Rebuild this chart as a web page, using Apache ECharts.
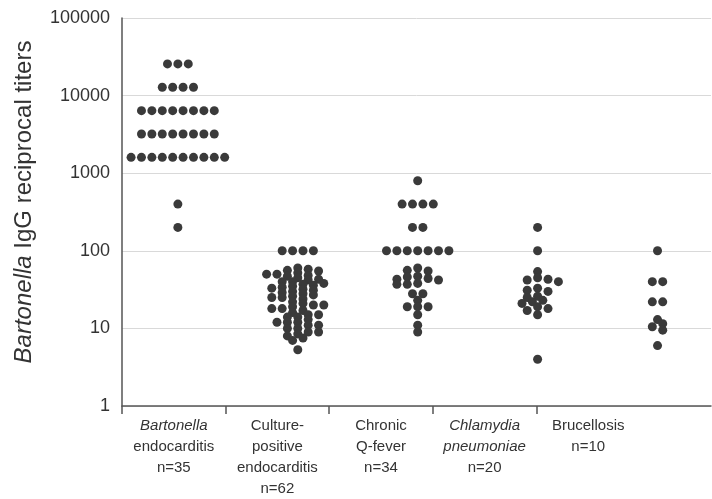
<!DOCTYPE html>
<html>
<head>
<meta charset="utf-8">
<script src="https://cdn.jsdelivr.net/npm/echarts@6/dist/echarts.min.js"></script>
<style>html,body{margin:0;padding:0;background:#fff;}#c{width:712px;height:499px;}</style>
</head>
<body>
<div id="c"></div>
<script>
// ---- data ----
const categories = [
  '{i|Bartonella}\nendocarditis\nn=35',
  'Culture-\npositive\nendocarditis\nn=62',
  'Chronic\nQ-fever\nn=34',
  '{i|Chlamydia}\n{i|pneumoniae}\nn=20',
  'Brucellosis\nn=10'
];
const bartonella = [25600,25600,25600,12800,12800,12800,12800,
  6400,6400,6400,6400,6400,6400,6400,6400,
  3200,3200,3200,3200,3200,3200,3200,3200,
  1600,1600,1600,1600,1600,1600,1600,1600,1600,1600,400,200];
const culturePositive = [100,100,100,100,60,58,56,55,52,50,50,48,47,45,43,42,40,40,38,37,36,35,34,
  33,32,31,30,29,28,27,26,25,25,24,22,21,20,20,19,18,18,17,16,15,15,14,14,13,12,12,12,
  11,11,10,10,9,9,8.5,8,7.5,7,5.3];
const qFever = [800,400,400,400,400,200,200,100,100,100,100,100,100,100,
  60,56,55,47,46,44,43,42,38,37,37,28,28,23,19,19,19,15,11,9];
const chlamydia = [200,100,54,45,43,42,40,33,31,30,26,25,23,22,21,19,18,17,15,4];
const brucellosis = [100,40,40,22,22,13,11.5,10.5,9.5,6];
const groups = [bartonella, culturePositive, qFever, chlamydia, brucellosis];
const yTicks = [1,10,100,1000,10000,100000];

const FONT = '"Liberation Sans", Arial, Helvetica, sans-serif';
const chart = echarts.init(document.getElementById('c'), null, {renderer: 'canvas'});
const xMin = -0.466, xMax = 4.446;
const base = {
  animation: false,
  grid: [
    {left: 122, right: 1, top: 18, bottom: 93},
    {left: 122, width: 518, top: 18, bottom: 93},
    {left: 122, width: 414.4, top: 18, bottom: 93}
  ],
  xAxis: [
    {gridIndex: 0, type: 'value', min: xMin, max: xMax,
      axisLine: {show: true, onZero: false, lineStyle: {color: '#555', width: 1.5}},
      axisTick: {show: false}, axisLabel: {show: false}, splitLine: {show: false}},
    {gridIndex: 1, type: 'category', data: categories, boundaryGap: true,
      axisLine: {show: false}, axisTick: {show: false},
      axisLabel: {interval: 0, margin: 9, fontSize: 15, lineHeight: 21, color: '#333', fontFamily: FONT,
        rich: {i: {fontStyle: 'italic', fontSize: 15, lineHeight: 21, color: '#333', fontFamily: FONT}}}},
    {gridIndex: 2, type: 'value', min: 0, max: 4, interval: 1,
      axisLine: {show: false}, axisLabel: {show: false}, splitLine: {show: false},
      axisTick: {show: true, length: 8, lineStyle: {color: '#555', width: 1.5}}}
  ],
  yAxis: [
    {gridIndex: 0, type: 'log', logBase: 10, min: yTicks[0], max: yTicks[yTicks.length-1],
      axisLine: {show: true, onZero: false, lineStyle: {color: '#555', width: 1.5}},
      axisTick: {show: false},
      axisLabel: {fontSize: 18, color: '#333', margin: 12, fontFamily: FONT, formatter: v => String(Math.round(v))},
      splitLine: {show: true, lineStyle: {color: '#d9d9d9', width: 1}},
      name: '{i|Bartonella} IgG reciprocal titers', nameLocation: 'middle', nameRotate: 90, nameGap: 86,
      nameTextStyle: {fontSize: 24, color: '#333', fontFamily: FONT, padding: [0, 0, 0, 20],
        rich: {i: {fontStyle: 'italic', fontSize: 24, color: '#333', fontFamily: FONT}}}},
    {gridIndex: 1, type: 'value', show: false},
    {gridIndex: 2, type: 'value', show: false}
  ],
  series: []
};
chart.setOption(base);

const toY = v => chart.convertToPixel({yAxisIndex: 0}, v);
const pxPerUnit = chart.convertToPixel({xAxisIndex: 0}, 1) - chart.convertToPixel({xAxisIndex: 0}, 0);

function layout(vals, s, v) {
  const pts = [];
  const sorted = vals.slice().sort((a, b) => b - a);
  let i = 0;
  while (i < sorted.length) {
    let j = i; while (j < sorted.length && sorted[j] === sorted[i]) j++;
    const k = j - i, y = toY(sorted[i]);
    const row = []; for (let m = 0; m < k; m++) row.push((m - (k - 1) / 2) * s);
    const sum = pts.reduce((a, p) => a + p.x, 0);
    let chosen = null;
    for (let st = 0; st < 80 && chosen === null; st++) {
      const cands = st === 0 ? [0] : (sum > 0 ? [-st * s / 2, st * s / 2] : [st * s / 2, -st * s / 2]);
      for (const c of cands) {
        const ok = row.every(b => pts.every(p => {
          const dx = (b + c - p.x) / s, dy = (y - p.y) / v;
          return dx * dx + dy * dy >= 0.999;
        }));
        if (ok) { chosen = c; break; }
      }
    }
    row.forEach(b => pts.push({x: b + chosen, y: y, val: sorted[i]}));
    i = j;
  }
  return pts;
}

const series = groups.map((g, gi) => ({
  type: 'scatter', xAxisIndex: 0, yAxisIndex: 0,
  symbol: 'circle', symbolSize: 9,
  itemStyle: {color: '#3a3a3a', opacity: 1},
  data: layout(g, 10.4, 4.5).map(p => [gi + p.x / pxPerUnit, p.val])
}));
chart.setOption({series: series});
</script>
</body>
</html>
